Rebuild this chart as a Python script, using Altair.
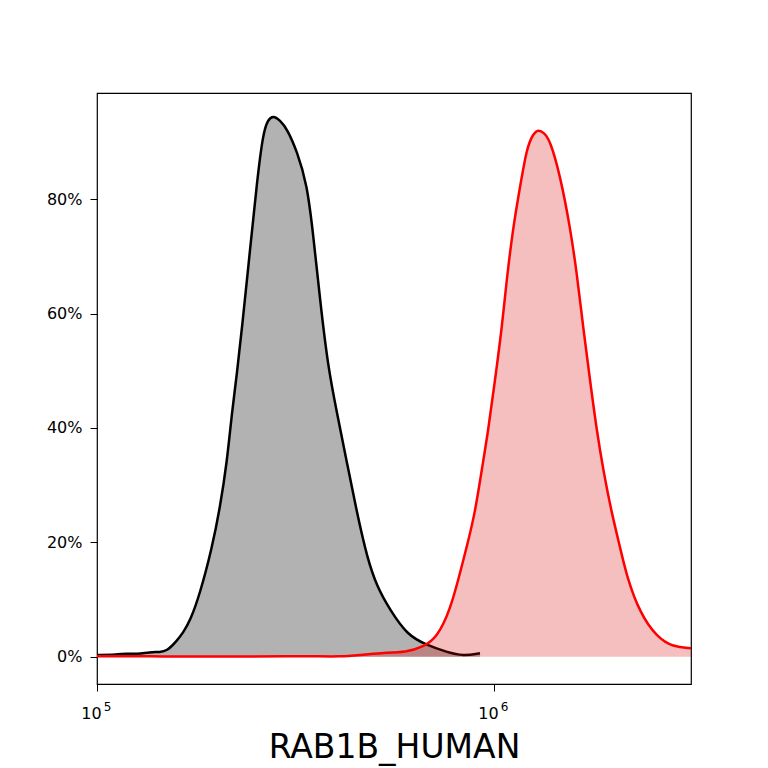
import altair as alt
import pandas as pd

# Control (black/gray) histogram: intensity and fraction of events
ctrl_x = [1.00e5, 1.123e5, 1.19e5, 1.261e5, 1.36e5, 1.441e5, 1.501e5, 1.59e5, 1.647e5,
          1.715e5, 1.817e5, 1.948e5, 2.04e5, 2.125e5, 2.185e5, 2.252e5, 2.319e5, 2.429e5,
          2.529e5, 2.619e5, 2.696e5, 2.775e5, 2.891e5, 3.01e5, 3.19e5, 3.381e5, 3.501e5,
          3.646e5, 3.819e5, 4.023e5, 4.263e5, 4.518e5, 4.788e5, 5.074e5, 5.47e5, 6.039e5,
          6.78e5, 7.613e5, 8.355e5, 9.22e5]
ctrl_y = [0.003, 0.0035, 0.006, 0.0045, 0.008, 0.008, 0.010, 0.028, 0.042,
          0.062, 0.110, 0.190, 0.260, 0.340, 0.425, 0.495, 0.575, 0.711,
          0.830, 0.915, 0.939, 0.946, 0.938, 0.923, 0.884, 0.826, 0.741,
          0.624, 0.506, 0.426, 0.339, 0.251, 0.174, 0.122, 0.082, 0.038,
          0.020, 0.008, 0.001, 0.006]

# Sample (red) histogram
samp_x = [1.00e5, 1.5e5, 2.0e5, 2.5e5, 3.0e5, 3.5e5, 4.1e5, 4.6e5, 5.16e5, 6.04e5,
          6.63e5, 7.19e5, 7.75e5, 8.21e5, 8.537e5, 8.956e5, 9.311e5, 9.674e5, 1.006e6,
          1.046e6, 1.076e6, 1.118e6, 1.163e6, 1.209e6, 1.254e6, 1.293e6, 1.336e6,
          1.384e6, 1.467e6, 1.554e6, 1.616e6, 1.679e6, 1.745e6, 1.814e6, 1.885e6,
          1.979e6, 2.077e6, 2.160e6, 2.332e6, 2.574e6, 2.824e6, 3.135e6]
samp_y = [0.001, 0.0005, 0.0, 0.0005, 0.001, 0.001, 0.0, 0.003, 0.0065, 0.008,
          0.017, 0.034, 0.081, 0.146, 0.192, 0.251, 0.326, 0.396, 0.484,
          0.573, 0.659, 0.752, 0.821, 0.889, 0.914, 0.922, 0.916,
          0.903, 0.842, 0.752, 0.672, 0.573, 0.484, 0.396, 0.326,
          0.251, 0.192, 0.140, 0.076, 0.034, 0.017, 0.015]

x_tick_values = [1e5, 1e6]
x_tick_bases = ["10", "10"]
x_tick_exponents = ["5", "6"]
y_tick_values = [0.0, 0.2, 0.4, 0.6, 0.8]
x_title = "RAB1B_HUMAN"

ctrl = pd.DataFrame({"x": ctrl_x, "y": ctrl_y})
samp = pd.DataFrame({"x": samp_x, "y": samp_y})


def expr_for(labels):
    return " : ".join(
        f"datum.value == {v} ? '{l}'" for v, l in zip(x_tick_values, labels)
    ) + " : ''"


FONT = "DejaVu Sans"
CURVE = "basis"
x_scale = alt.Scale(type="log", domain=[1e5, 3.135e6], nice=False)

main_x_axis = alt.Axis(
    orient="bottom",
    values=x_tick_values,
    labelExpr=expr_for(x_tick_bases),
    title=x_title,
    titleFontSize=33,
    titleFont=FONT,
    titleFontWeight="normal",
    titleColor="black",
    titleBaseline="alphabetic",
    titleY=73,
    labelFont=FONT,
    labelFontSize=16,
    labelColor="black",
    labelPadding=14,
    labelOffset=-6,
    labelFlush=False,
    tickSize=7,
    tickColor="black",
    tickWidth=1,
    grid=False,
    domain=False,
)
sup_x_axis = alt.Axis(
    orient="bottom",
    values=x_tick_values,
    labelExpr=expr_for(x_tick_exponents),
    title=None,
    labelFont=FONT,
    labelFontSize=12,
    labelColor="black",
    labelPadding=17,
    labelOffset=10,
    labelFlush=False,
    ticks=False,
    tickSize=0,
    grid=False,
    domain=False,
)

y_enc = alt.Y(
    "y:Q",
    scale=alt.Scale(domain=[-0.0477, 0.9855], nice=False, zero=False),
    axis=alt.Axis(
        values=y_tick_values,
        format=".0%",
        title=None,
        labelFont=FONT,
        labelFontSize=16,
        labelColor="black",
        labelPadding=8,
        tickSize=7,
        tickColor="black",
        tickWidth=1,
        grid=False,
        domain=False,
    ),
)

ctrl_area = alt.Chart(ctrl).mark_area(
    interpolate=CURVE, fill="black", fillOpacity=0.3, clip=True
).encode(x=alt.X("x:Q", scale=x_scale, axis=main_x_axis), y=y_enc, y2=alt.datum(0))
ctrl_line = alt.Chart(ctrl).mark_line(
    interpolate=CURVE, color="black", strokeWidth=2.5, clip=True
).encode(x=alt.X("x:Q", scale=x_scale, axis=None), y=y_enc)
samp_area = alt.Chart(samp).mark_area(
    interpolate=CURVE, fill="#d80000", fillOpacity=0.25, clip=True
).encode(x=alt.X("x:Q", scale=x_scale, axis=sup_x_axis), y=y_enc, y2=alt.datum(0))
samp_line = alt.Chart(samp).mark_line(
    interpolate=CURVE, color="#ff0000", strokeWidth=2.5, clip=True
).encode(x=alt.X("x:Q", scale=x_scale, axis=None), y=y_enc)

chart = (
    alt.layer(ctrl_area, ctrl_line, samp_area, samp_line)
    .resolve_axis(x="independent")
    .properties(
        width=594,
        height=591,
        autosize=alt.AutoSizeParams(type="none"),
        padding={"left": 89, "top": 85, "right": 69, "bottom": 84},
        background="white",
    )
    .configure_view(stroke="black", strokeWidth=1.2)
)

chart.save("out.html", embed_options={"renderer": "svg", "actions": False})
